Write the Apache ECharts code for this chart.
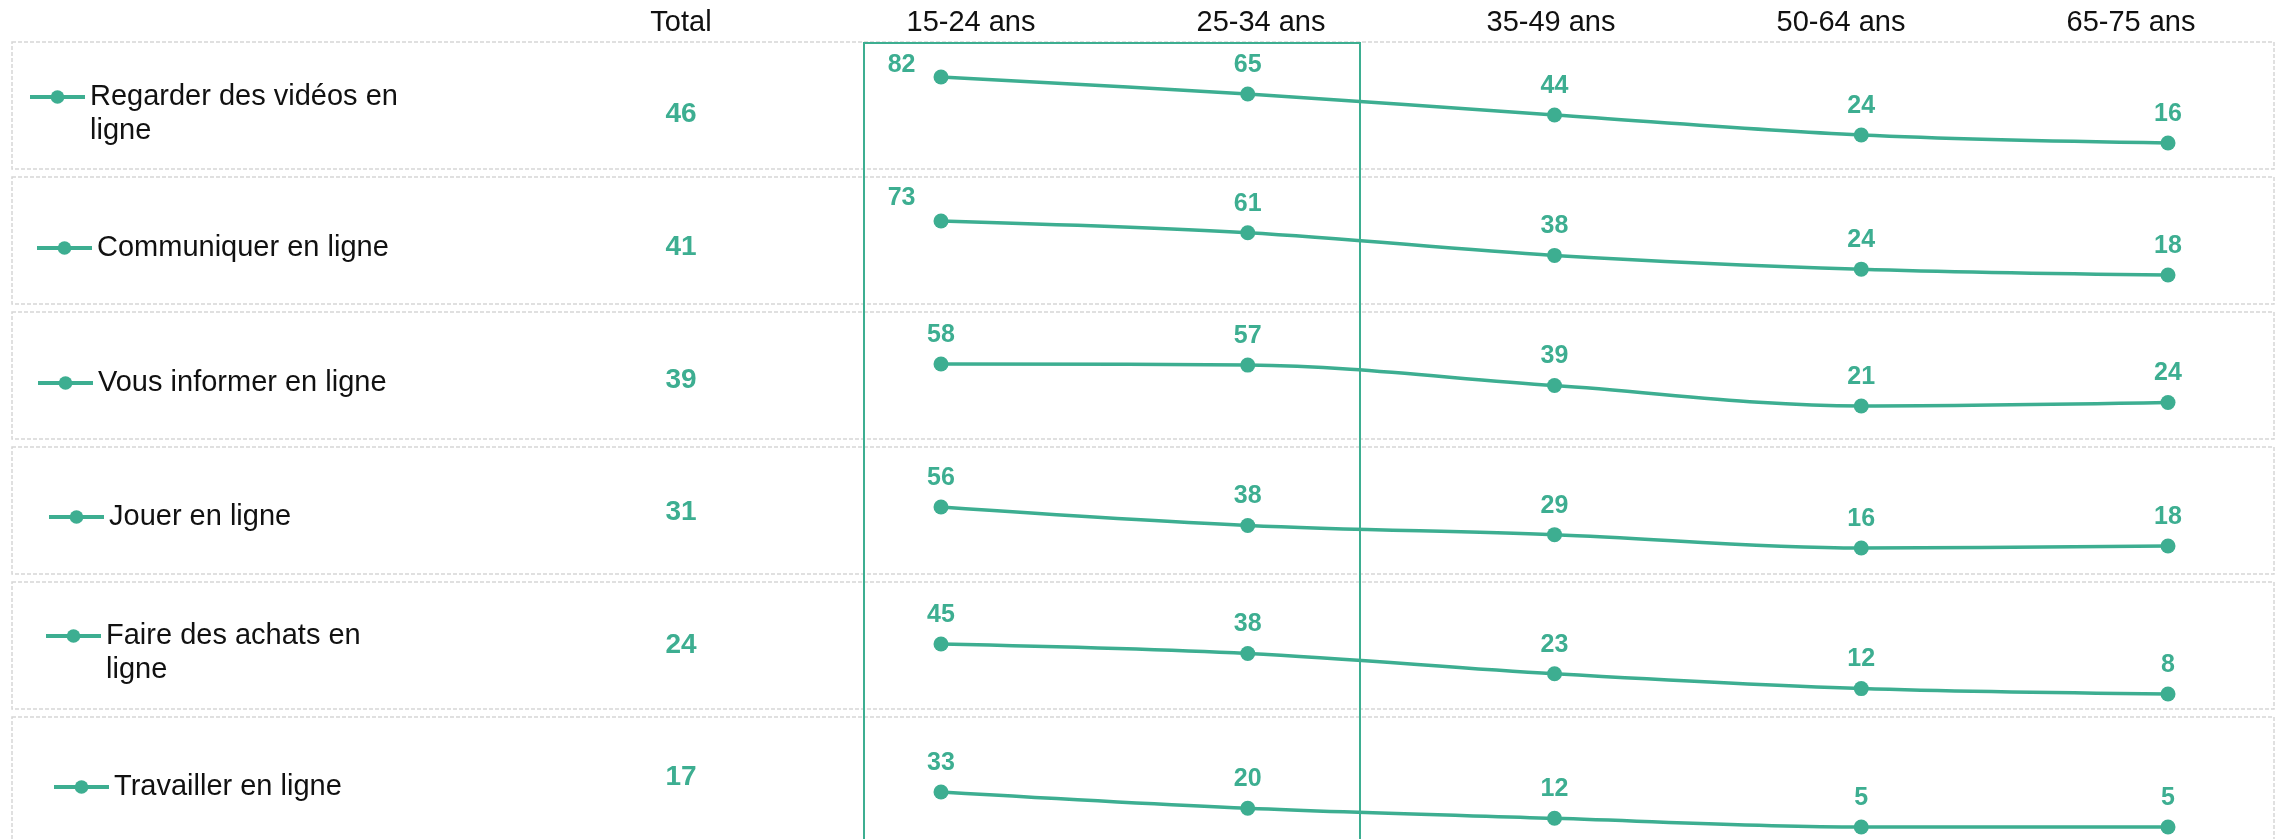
<!DOCTYPE html>
<html>
<head>
<meta charset="utf-8">
<script src="https://cdn.jsdelivr.net/npm/echarts@6/dist/echarts.min.js"></script>
<style>
html,body{margin:0;padding:0;background:#fff;}
#chart{width:2282px;height:839px;}
</style>
</head>
<body>
<div id="chart"></div>
<script>
// ---- data ----
const rowNames = ['Regarder des vidéos en ligne', 'Communiquer en ligne', 'Vous informer en ligne', 'Jouer en ligne', 'Faire des achats en ligne', 'Travailler en ligne'];
const ageGroups = ['15-24 ans', '25-34 ans', '35-49 ans', '50-64 ans', '65-75 ans'];
const headerLabels = ['Total', '15-24 ans', '25-34 ans', '35-49 ans', '50-64 ans', '65-75 ans'];
const totals = [46, 41, 39, 31, 24, 17];
const videos = [82, 65, 44, 24, 16];
const communiquer = [73, 61, 38, 24, 18];
const informer = [58, 57, 39, 21, 24];
const jouer = [56, 38, 29, 16, 18];
const achats = [45, 38, 23, 12, 8];
const travailler = [33, 20, 12, 5, 5];
const rowValues = [videos, communiquer, informer, jouer, achats, travailler];

// ---- layout / style ----
const GREEN = '#3DAE91';
const FONT = '"Liberation Sans", Arial, sans-serif';
const rowGrids = [
  {top: 59, height: 100},
  {top: 194.5, height: 98.2},
  {top: 316.3, height: 113.5},
  {top: 461.9, height: 102.5},
  {top: 569.7, height: 135.1},
  {top: 708.3, height: 125}
];
const legendPos = [
  {left: 28, iconY: 97, wrap: true},
  {left: 35, iconY: 248, wrap: false},
  {left: 36, iconY: 383, wrap: false},
  {left: 47, iconY: 517, wrap: false},
  {left: 44, iconY: 636, wrap: true},
  {left: 52, iconY: 787, wrap: false}
];
const firstLabelShift = {0: -12, 1: -23}; // rows whose first label sits to the left
const LH = 34;

const grid = [];
const xAxis = [];
const yAxis = [];
const series = [];
const legend = [];

// header + totals grid
grid.push({left: 536, width: 1740, top: 43.2, height: 801.6});
xAxis.push({
  type: 'category', gridIndex: 0, position: 'top', data: headerLabels, boundaryGap: true,
  axisLine: {show: false}, axisTick: {show: false}, splitLine: {show: false},
  axisLabel: {margin: 6, fontSize: 29, color: '#111', fontFamily: FONT}
});
yAxis.push({
  type: 'category', gridIndex: 0, data: rowNames, inverse: true, boundaryGap: true, show: false
});
series.push({
  name: 'Total', type: 'scatter', xAxisIndex: 0, yAxisIndex: 0,
  symbolSize: 1, itemStyle: {color: 'rgba(0,0,0,0)', opacity: 1},
  data: totals.map((v, i) => [0, i, v]),
  label: {show: true, position: 'inside', offset: [0, 5], formatter: p => p.value[2], fontSize: 28, fontWeight: 'bold', color: GREEN, fontFamily: FONT, opacity: 1, textBorderWidth: 0},
  emphasis: {disabled: true},
  silent: true
});

rowNames.forEach((name, r) => {
  const gi = r + 1;
  grid.push({left: 941, right: 114, top: rowGrids[r].top, height: rowGrids[r].height});
  xAxis.push({type: 'category', gridIndex: gi, data: ageGroups, boundaryGap: false, show: false});
  yAxis.push({type: 'value', gridIndex: gi, min: 0, max: 100, show: false, splitLine: {show: false}});
  const data = rowValues[r].map((v, i) => {
    if (i === 0 && firstLabelShift[r] !== undefined) {
      return {value: v, label: {position: 'left', distance: 18, offset: [0, firstLabelShift[r]]}};
    }
    return v;
  });
  series.push({
    name: name, type: 'line', xAxisIndex: gi, yAxisIndex: gi,
    data: data, smooth: 0.35,
    symbol: 'circle', symbolSize: 15,
    lineStyle: {color: GREEN, width: 3.5},
    itemStyle: {color: GREEN},
    label: {show: true, position: 'top', distance: 9, fontSize: 25, fontWeight: 'bold', color: GREEN, fontFamily: FONT},
    emphasis: {disabled: true},
    animation: false
  });
  const lp = legendPos[r];
  const boxH = lp.wrap ? LH * 3 : LH;
  legend.push({
    data: [name],
    left: lp.left,
    top: lp.iconY - boxH / 2,
    padding: 0,
    itemWidth: 55, itemHeight: 17, itemGap: 0,
    selectedMode: false,
    lineStyle: {width: 4},
    formatter: lp.wrap ? (n => '\n' + n.replace(/ ligne$/, '\nligne')) : (n => n),
    textStyle: {fontSize: 29, color: '#111', fontFamily: FONT, lineHeight: LH}
  });
});

// decorative frames
const graphic = [];
for (let r = 0; r < 6; r++) {
  graphic.push({
    type: 'rect', silent: true, z: -1,
    shape: {x: 12, y: 42 + r * 135, width: 2262, height: 127},
    style: {fill: 'none', stroke: '#d6d6d6', lineWidth: 1.5, lineDash: [4, 2]}
  });
}
graphic.push({
  type: 'rect', silent: true, z: 0,
  shape: {x: 864, y: 43, width: 496, height: 820},
  style: {fill: 'none', stroke: GREEN, lineWidth: 2}
});

const chart = echarts.init(document.getElementById('chart'), null, {renderer: 'canvas'});
chart.setOption({
  backgroundColor: '#fff',
  animation: false,
  textStyle: {fontFamily: FONT},
  grid, xAxis, yAxis, series, legend, graphic
});
</script>
</body>
</html>
